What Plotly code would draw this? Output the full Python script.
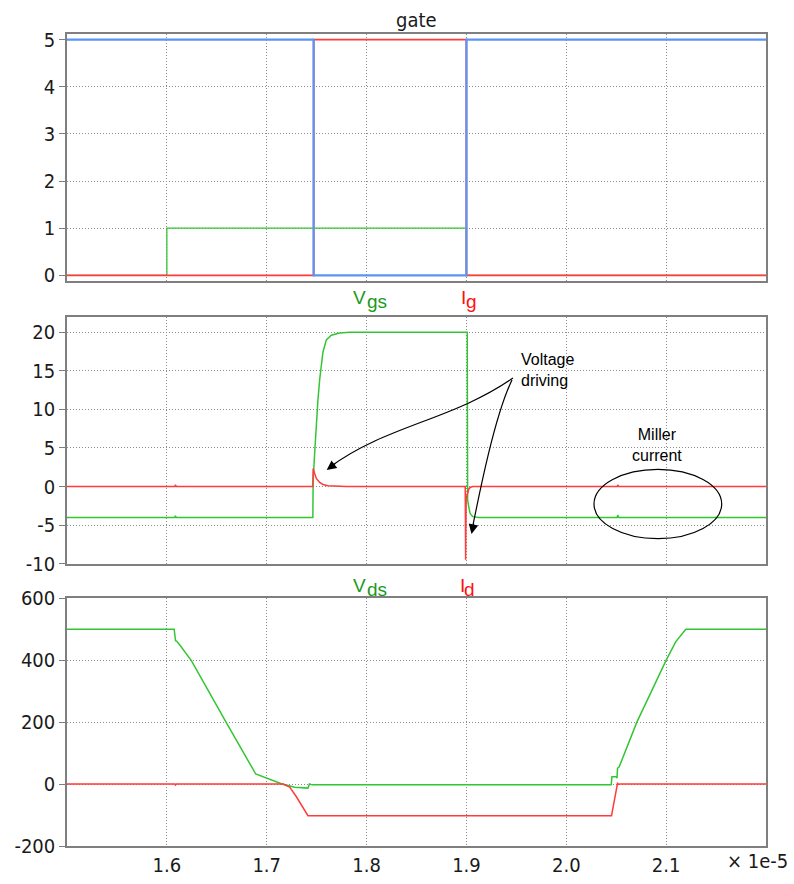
import plotly.graph_objects as go

# ---------------- data (time in units of 1e-5 s) ----------------
gate_t = [1.5, 1.6, 1.747, 1.9, 2.2]
gate_blue = [5, 5, 0, 5, 5]
gate_red = [0, 0, 5, 0, 0]
gate_green = [0, 1, 1, 0, 0]

vgs_t = [1.5, 1.608, 1.6085, 1.6095, 1.7462, 1.7465, 1.748, 1.7497, 1.7513, 1.753, 1.7547,
         1.7563, 1.7597, 1.7647, 1.773, 1.783, 1.9008, 1.9012, 1.9023, 1.9037, 1.9063, 1.912,
         2.051, 2.0515, 2.0525, 2.2]
vgs_v = [-4, -4, -3.8, -4, -4, 0.8, 4.3, 8.6, 11.2, 13.8, 15.9,
         17.4, 19.0, 19.6, 19.9, 20, 20, -1.8, -2.6, -3.5, -3.9, -4,
         -4, -3.7, -4, -4]

ig_t = [1.5, 1.608, 1.6085, 1.6095, 1.7462, 1.7465, 1.748, 1.7497, 1.753, 1.7563, 1.7613,
        1.7697, 1.7797, 1.8988, 1.8992, 1.8997, 1.9003, 1.9013, 1.9023, 1.9037, 1.9063,
        2.051, 2.0515, 2.0525, 2.2]
ig_v = [0, 0, 0.2, 0, 0, 2.34, 1.7, 1.05, 0.53, 0.27, 0.1,
        0.03, 0, 0, -9.5, -1.6, -1.2, -0.7, -0.35, -0.12, 0,
        0, 0.2, 0, 0]

vds_t = [1.5, 1.6073, 1.6087, 1.6097, 1.613, 1.6247, 1.6597, 1.689, 1.7147, 1.728, 1.7413,
         1.743, 1.7437, 1.7463, 2.045, 2.0457, 2.0503, 2.0508, 2.0513, 2.053, 2.0707, 2.0997,
         2.1097, 2.1163, 2.1197, 2.2]
vds_v = [500, 500, 463, 462, 449, 398, 198, 32.5, 1, -10, -13,
         2, -1, -2, -2, 24, 24, 19, 51, 56, 200, 398,
         460, 485, 500, 500]

id_t = [1.5, 1.608, 1.6085, 1.6095, 1.7163, 1.723, 1.7297, 1.7363, 1.7413, 2.0453, 2.0513,
        2.0525, 2.054, 2.2]
id_v = [0, 0, -3, 0, 0, -10, -41, -78, -102, -102, 2,
        -1, 0, 0]

x_ticks = [1.6, 1.7, 1.8, 1.9, 2.0, 2.1]
x_ticktext = ["1.6", "1.7", "1.8", "1.9", "2.0", "2.1"]
y1_ticks = [0, 1, 2, 3, 4, 5]
y2_ticks = [-10, -5, 0, 5, 10, 15, 20]
y3_ticks = [-200, 0, 200, 400, 600]

# ---------------- styling ----------------
GREEN = "#33c633"
RED = "#ff3b3b"
BLUE = "#5a95f5"
LBL_GREEN = "#1a9a1a"
LBL_RED = "#ff1010"
FRAME = "#7f7f7f"
GRID = "#8c8c8c"
FONT = "DejaVu Sans Condensed, DejaVu Sans"
LBL_FONT = "Liberation Sans, Arial"
ANN_FONT = "Liberation Sans, Arial"
TXT = "#1a1a1a"

W, H = 794, 884
PL, PR, PT, PB = 67, 766, 34, 846


def px(xp):
    return (xp - PL) / (PR - PL)


def py(yp):
    return (PB - yp) / (PB - PT)


fig = go.Figure()
lw = 1.5
fig.add_trace(go.Scatter(x=gate_t, y=gate_green, mode="lines", line=dict(color=GREEN, width=1.3, shape="hv"), xaxis="x", yaxis="y"))
fig.add_trace(go.Scatter(x=gate_t, y=gate_red, mode="lines", line=dict(color=RED, width=1.8, shape="hv"), xaxis="x", yaxis="y"))
fig.add_trace(go.Scatter(x=gate_t, y=gate_blue, mode="lines", line=dict(color=BLUE, width=2.2, shape="hv"), xaxis="x", yaxis="y"))

fig.add_trace(go.Scatter(x=vgs_t, y=vgs_v, mode="lines", line=dict(color=GREEN, width=lw), xaxis="x2", yaxis="y2"))
fig.add_trace(go.Scatter(x=ig_t, y=ig_v, mode="lines", line=dict(color=RED, width=lw), xaxis="x2", yaxis="y2"))

fig.add_trace(go.Scatter(x=vds_t, y=vds_v, mode="lines", line=dict(color=GREEN, width=lw), xaxis="x3", yaxis="y3"))
fig.add_trace(go.Scatter(x=id_t, y=id_v, mode="lines", line=dict(color=RED, width=lw), xaxis="x3", yaxis="y3"))

xcommon = dict(range=[1.5, 2.2], tickvals=x_ticks, ticktext=x_ticktext, showgrid=True,
               gridcolor=GRID, griddash="1px,2px", gridwidth=1, zeroline=False, showline=True,
               mirror=True, linecolor=FRAME, linewidth=1.5, ticks="", automargin=False,
               tickfont=dict(family=FONT, size=20, color=TXT), fixedrange=True)
ycommon = dict(showgrid=True, gridcolor=GRID, griddash="1px,2px", gridwidth=1, zeroline=False,
               showline=True, mirror=True, linecolor=FRAME, linewidth=1.5, ticks="outside",
               ticklen=6, tickcolor=FRAME, tickwidth=1, automargin=False,
               tickfont=dict(family=FONT, size=20, color=TXT), fixedrange=True)

d1 = [py(281), 1.0]
d2 = [py(563.7), py(316.7)]
d3 = [0.0, py(598.3)]

fig.update_layout(
    width=W, height=H,
    margin=dict(l=PL, r=W - PR, t=PT, b=H - PB, autoexpand=False),
    paper_bgcolor="white", plot_bgcolor="white",
    showlegend=False,
    xaxis=dict(xcommon, anchor="y", showticklabels=False),
    xaxis2=dict(xcommon, anchor="y2", showticklabels=False),
    xaxis3=dict(xcommon, anchor="y3", showticklabels=True),
    yaxis=dict(ycommon, domain=d1, anchor="x", range=[-0.12, 5.12], tickvals=y1_ticks,
               ticktext=[str(v) for v in y1_ticks]),
    yaxis2=dict(ycommon, domain=d2, anchor="x2", range=[-10, 22], tickvals=y2_ticks,
                ticktext=[str(v) for v in y2_ticks]),
    yaxis3=dict(ycommon, domain=d3, anchor="x3", range=[-200, 600], tickvals=y3_ticks,
                ticktext=[str(v) for v in y3_ticks]),
)


def label(text, xl, yc, color, size=19, font=LBL_FONT):
    return dict(text=text, x=px(xl), y=py(yc), xref="paper", yref="paper", showarrow=False,
                font=dict(family=font, size=size, color=color), xanchor="left", yanchor="middle")


ann = []
ann.append(dict(text="gate", x=px(416), y=py(20), xref="paper", yref="paper", showarrow=False,
                font=dict(family=FONT, size=20, color=TXT), xanchor="center", yanchor="middle"))
# channel labels (main letter + lowered suffix)
ann.append(label("V", 351, 297.5, LBL_GREEN))
ann.append(label("gs", 364.5, 301, LBL_GREEN))
ann.append(label("I", 458.5, 297.5, LBL_RED))
ann.append(label("g", 463.5, 301, LBL_RED))
ann.append(label("V", 351, 297.5 + 288, LBL_GREEN))
ann.append(label("ds", 364.5, 301 + 288, LBL_GREEN))
ann.append(label("I", 457.5, 297.5 + 288, LBL_RED))
ann.append(label("d", 462, 301 + 288, LBL_RED))

ann.append(dict(text="× 1e-5", x=px(790), y=py(861), xref="paper", yref="paper", showarrow=False,
                font=dict(family=FONT, size=20, color=TXT), xanchor="right", yanchor="middle"))
ann.append(dict(text="Voltage<br>driving", x=px(519), y=py(370), xref="paper", yref="paper", showarrow=False,
                font=dict(family=ANN_FONT, size=16, color="black"), xanchor="left", yanchor="middle", align="left"))
ann.append(dict(text="Miller<br>current", x=px(657), y=py(445), xref="paper", yref="paper", showarrow=False,
                font=dict(family=ANN_FONT, size=16, color="black"), xanchor="center", yanchor="middle", align="center"))
# arrowheads
ann.append(dict(text="", x=px(326.7), y=py(470), xref="paper", yref="paper", showarrow=True,
                ax=10, ay=-7.5, arrowhead=2, arrowsize=1.6, arrowwidth=1.2, arrowcolor="black"))
ann.append(dict(text="", x=px(471.5), y=py(534), xref="paper", yref="paper", showarrow=True,
                ax=2.5, ay=-12, arrowhead=2, arrowsize=1.6, arrowwidth=1.2, arrowcolor="black"))
fig.update_layout(annotations=ann)


def pt(a, b):
    return f"{px(a):.5f},{py(b):.5f}"


shapes = []
shapes.append(dict(type="path", xref="paper", yref="paper",
                   path=f"M {pt(513, 378)} C {pt(453, 420)} {pt(387, 425)} {pt(330, 467)}",
                   line=dict(color="black", width=1.2)))
shapes.append(dict(type="path", xref="paper", yref="paper",
                   path=f"M {pt(512, 380)} C {pt(495, 415)} {pt(480, 490)} {pt(472, 530)}",
                   line=dict(color="black", width=1.2)))
shapes.append(dict(type="circle", xref="paper", yref="paper",
                   x0=px(594), x1=px(721.7), y0=py(538.7), y1=py(469.3),
                   line=dict(color="black", width=1.2)))
fig.update_layout(shapes=shapes)

fig.write_html("out.html")
